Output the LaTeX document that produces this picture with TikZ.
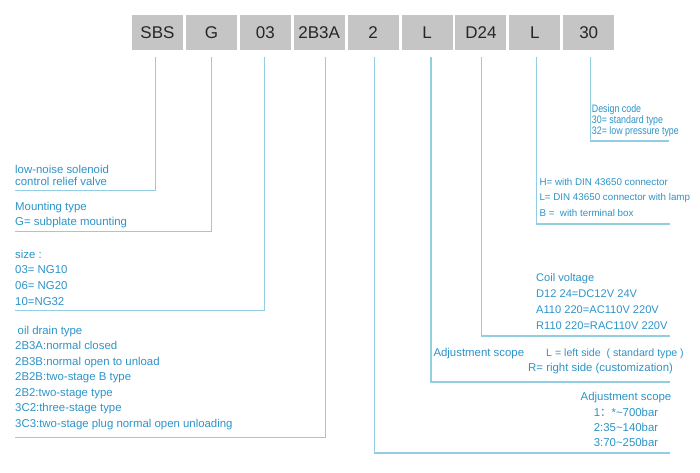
\documentclass[tikz,border=0pt]{standalone}
\usepackage{fontspec}
\setmainfont{Liberation Sans}
\newfontfamily\cjkfont{Noto Sans CJK SC}
\newfontfamily\narrowfont[FakeStretch=0.82]{Liberation Sans}
\usepackage{xcolor}
\usetikzlibrary{positioning}
\definecolor{codeblue}{HTML}{2C93C8}
\definecolor{leadblue}{HTML}{93CDE2}
\definecolor{boxgray}{HTML}{C5C5C5}

\begin{document}
\begin{tikzpicture}[x=1pt, y=-1pt,
  codebox/.style={fill=boxgray, minimum width=51pt, minimum height=35pt, inner sep=0pt,
    text=black!85, font=\fontsize{17}{17}\selectfont},
  lead/.style={leadblue, line width=1.2pt},
  desc/.style={text=codeblue, align=left, anchor=base west, inner sep=0pt,
    font=\fontsize{11.4}{15.55}\selectfont}]
  \useasboundingbox (0,0) rectangle (700,472);
  % Model code boxes
  \node[codebox] (sbs) at (157.5,32.5) {SBS};
  \node[codebox, right=2.5pt of sbs] (mount) {G};
  \node[codebox, right=2.5pt of mount] (size) {03};
  \node[codebox, right=2.5pt of size] (drain) {2B3A};
  \node[codebox, right=2.5pt of drain] (press) {2};
  \node[codebox, right=2.5pt of press] (side) {L};
  \node[codebox, right=2.5pt of side] (coil) {D24};
  \node[codebox, right=2.5pt of coil] (plug) {L};
  \node[codebox, right=2.5pt of plug] (design) {30};
  % Ends of the leaders
  \coordinate (e1) at (15,190.5);
  \coordinate (e2) at (15,231.5);
  \coordinate (e3) at (15,310.5);
  \coordinate (e4) at (15,437.5);
  \coordinate (e5) at (670,453);
  \coordinate (e6) at (670,382);
  \coordinate (e7) at (670,336);
  \coordinate (e8) at (670,224);
  \coordinate (e9) at (669,141);
  % Leaders
  \draw[lead] ([xshift=-2pt,yshift=-7pt]sbs.south) |- (e1);
  \draw[lead] ([yshift=-7pt]mount.south) |- (e2);
  \draw[lead] ([xshift=-0.5pt,yshift=-7pt]size.south) |- (e3);
  \draw[lead] ([xshift=6pt,yshift=-7pt]drain.south) |- (e4);
  \draw[lead] ([xshift=1pt,yshift=-7pt]press.south) |- (e5);
  \draw[lead] ([xshift=4pt,yshift=-7pt]side.south) |- (e6);
  \draw[lead] ([xshift=0.5pt,yshift=-7pt]coil.south) |- (e7);
  \draw[lead] ([xshift=2pt,yshift=-7pt]plug.south) |- (e8);
  \draw[lead] ([xshift=1.5pt,yshift=-7pt]design.south) |- (e9);
  % Descriptions (left), placed at the baseline of their last line
  \node[desc, font=\fontsize{11.4}{11.5}\selectfont] (tsbs) at (15,185)
    {low-noise solenoid\\control relief valve};
  \node[desc, font=\fontsize{11.4}{14.3}\selectfont] (tmount) at (15,225)
    {Mounting type\\G= subplate mounting};
  \node[desc] (tsize) at (15,305) {size :\\03= NG10\\06= NG20\\10=NG32};
  \node[desc] (tdrain) at (15,427.3)
    {\hspace*{2.5pt}oil drain type\\2B3A:normal closed\\2B3B:normal open to unload\\
     2B2B:two-stage B type\\2B2:two-stage type\\3C2:three-stage type\\
     3C3:two-stage plug normal open unloading};
  % Descriptions (right)
  \node[desc, font=\narrowfont\fontsize{10.8}{11}\selectfont] (tdesign) at (591.7,134.3)
    {Design code\\30= standard type\\32= low pressure type};
  \node[desc, font=\fontsize{9.8}{15.5}\selectfont] (tplug) at (539.3,216)
    {H= with DIN 43650 connector\\L= DIN 43650 connector with lamp\\B =\ \ with terminal box};
  \node[desc, font=\fontsize{11.1}{15.7}\selectfont] (tcoil) at (536,329)
    {Coil voltage\\D12 24=DC12V 24V\\A110 220=AC110V 220V\\R110 220=RAC110V 220V};
  \node[desc] (tside) at (433.3,356.7) {Adjustment scope};
  \node[desc, font=\fontsize{10.6}{15}\selectfont] (tleft) at (546,356.7) {L = left side\ \ ( standard type )};
  \node[desc] (tright) at (528,371.7) {R= right side (customization)};
  \node[desc, align=center, anchor=base, font=\fontsize{11.4}{15.3}\selectfont] (tpress) at (626,446.7)
    {Adjustment scope\\1{\cjkfont ：}*\textasciitilde 700bar\\2:35\textasciitilde 140bar\\3:70\textasciitilde 250bar};
\end{tikzpicture}
\end{document}
